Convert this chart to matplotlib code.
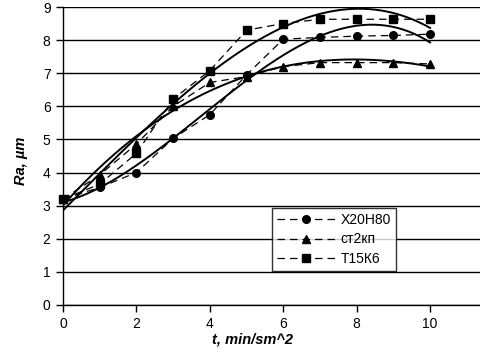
import numpy as np
import matplotlib.pyplot as plt

plt.rcParams['font.family'] = ['Liberation Sans', 'DejaVu Sans']

# time, min/sm^2
t = [0, 1, 2, 3, 4, 5, 6, 7, 8, 9, 10]

# roughness Ra for each material
x20h80 = [3.2, 3.55, 4.0, 5.03, 5.75, 6.95, 8.03, 8.08, 8.12, 8.14, 8.18]
st2kp = [3.2, 3.93, 4.86, 6.0, 6.72, 6.9, 7.2, 7.32, 7.32, 7.32, 7.28]
t15k6 = [3.2, 3.65, 4.58, 6.22, 7.08, 8.3, 8.5, 8.63, 8.63, 8.63, 8.63]

series = [('Х20Н80', x20h80, 'o', 5.5),
          ('ст2кп', st2kp, '^', 5.5),
          ('Т15К6', t15k6, 's', 6)]

fig = plt.figure(figsize=(4.8, 3.59), dpi=100)
ax = fig.add_axes([63 / 480, 1 - 305 / 359, 1 - 63 / 480, (305 - 7) / 359])

tt = np.linspace(0, 10, 200)
for name, vals, mk, ms in series:
    ax.plot(t, vals, color='black', lw=0.9, ls=(0, (6, 4)), marker=mk,
            markersize=ms, label=name, clip_on=False, zorder=3)
    # polynomial trend line
    coef = np.polyfit(t, vals, 3)
    ax.plot(tt, np.polyval(coef, tt), color='black', lw=1.4, zorder=2)

ax.set_xlim(0, 11.36)
ax.set_ylim(0, 9)
ax.set_xticks([0, 2, 4, 6, 8, 10])
ax.set_yticks(range(10))
ax.grid(axis='y', color='black', lw=1)
ax.set_axisbelow(True)
for s in ['top', 'right']:
    ax.spines[s].set_visible(False)
ax.spines['left'].set_linewidth(1)
ax.spines['bottom'].set_linewidth(1)
ax.tick_params(axis='both', direction='out', length=5, width=1,
               labelsize=10, color='black', pad=4)

fig.text(253 / 480, 1 - 339 / 359, 't, min/sm^2', ha='center', va='center',
         fontsize=10.5, fontweight='bold', style='italic')
fig.text(21 / 480, 1 - 161 / 359, 'Ra, µm', ha='center', va='center',
         rotation=90, fontsize=10.5, fontweight='bold', style='italic')

leg = ax.legend(loc='upper left', bbox_to_anchor=((272 - 63) / 417, 1 - (208 - 7) / 298),
                frameon=True, fancybox=False, edgecolor='black', fontsize=10,
                handlelength=4.2, borderpad=0.35, labelspacing=0.4,
                handletextpad=0.4, borderaxespad=0)
leg.get_frame().set_linewidth(1)

fig.savefig('out.png', dpi=100)
